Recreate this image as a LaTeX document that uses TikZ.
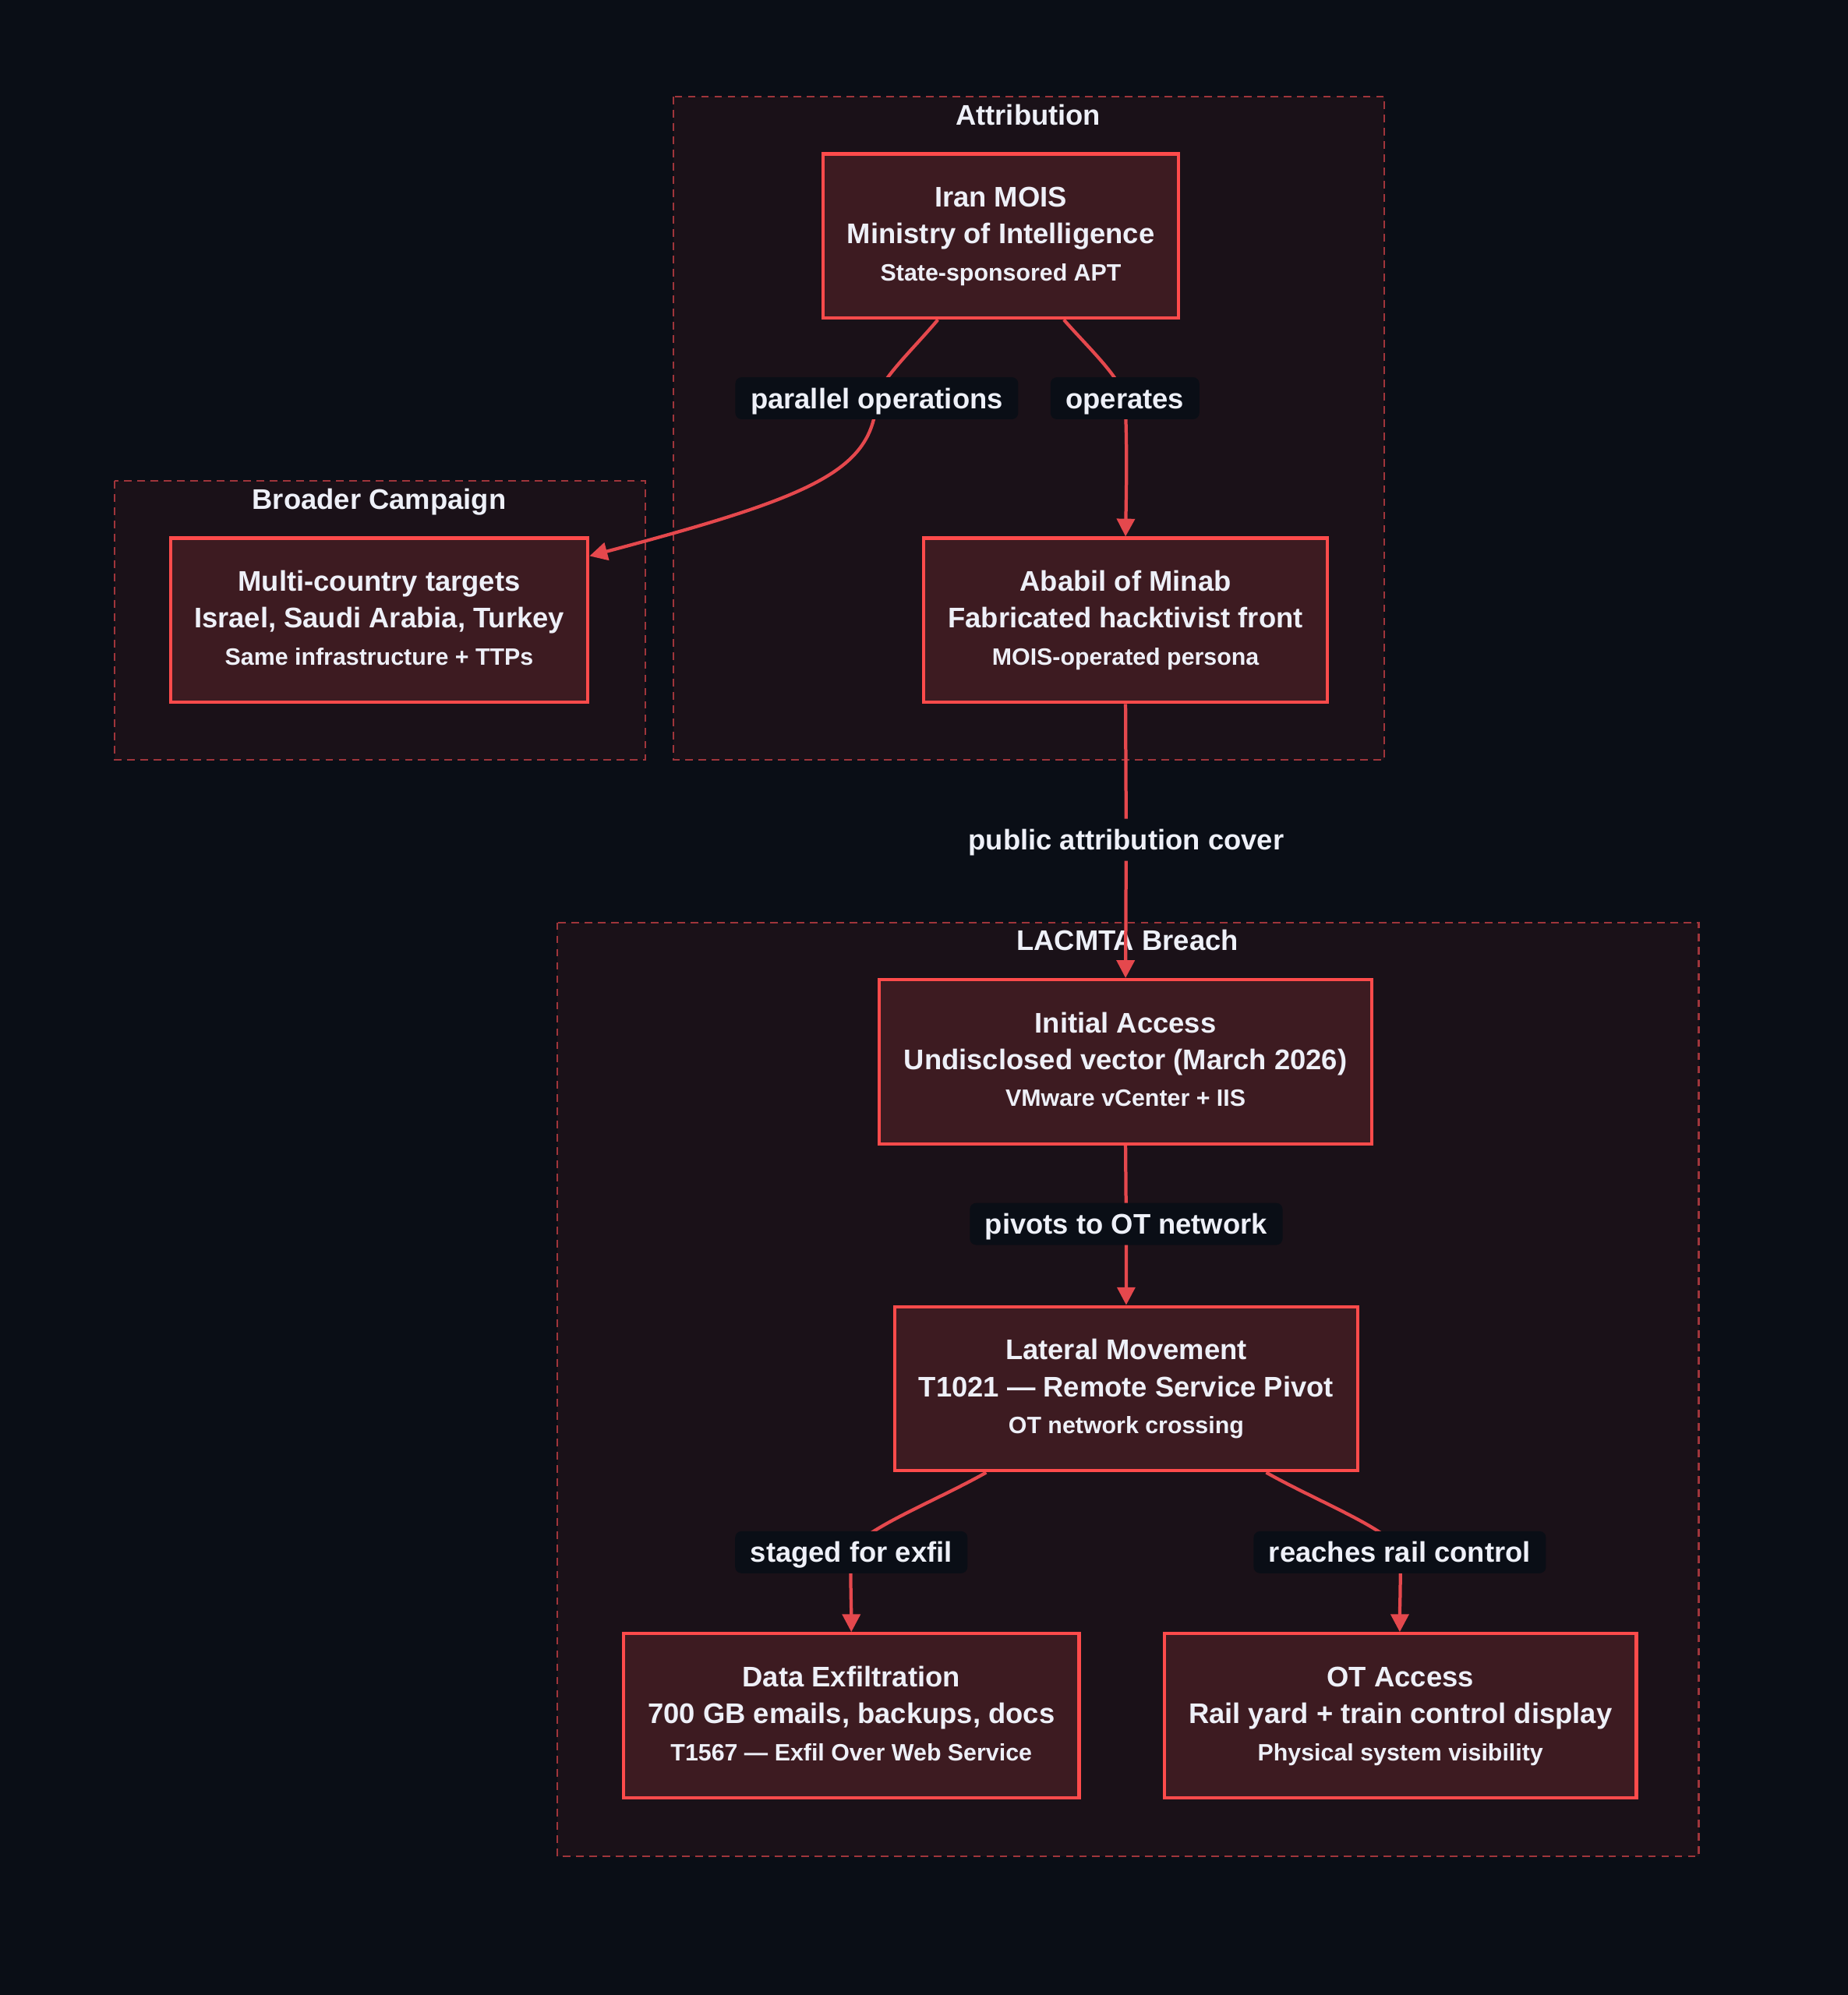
\documentclass[tikz,border=0pt]{standalone}
\usepackage{fontspec}
\setmainfont{Liberation Sans}
\usetikzlibrary{arrows.meta,calc}
\definecolor{pagebg}{HTML}{0A0E16}
\definecolor{clusterfill}{HTML}{1A1118}
\definecolor{clusterline}{HTML}{A0353B}
\definecolor{nodefill}{HTML}{3D1B21}
\definecolor{nodeline}{HTML}{FF4B4B}
\definecolor{edgecol}{HTML}{E5484D}
\definecolor{txt}{HTML}{EEF0F8}
\pgfdeclarelayer{bglayer}
\pgfdeclarelayer{edgelayer}
\pgfsetlayers{bglayer,edgelayer,main}
\newcommand{\mainsize}{\fontsize{11.15}{14.5}\selectfont\bfseries}
\newcommand{\firstline}[1]{\vphantom{(}#1}
\newcommand{\subline}[1]{{\fontsize{9.3}{14.5}\selectfont\bfseries\vphantom{(}#1}}
\begin{document}
\begin{tikzpicture}[x=0.5pt,y=-0.5pt,
  cluster/.style={draw=clusterline,fill=clusterfill,line width=0.7pt,dash pattern=on 3pt off 2.2pt},
  clustertitle/.style={text=txt,font=\mainsize,inner sep=0pt,text height=10pt,text depth=2pt},
  box/.style={draw=nodeline,fill=nodefill,line width=1.3pt,text=txt,font=\mainsize,align=center,inner sep=0pt,minimum height=64.5pt},
  edge/.style={draw=edgecol,line width=1.3pt,-{Triangle[length=7pt,width=7pt]}},
  lbl/.style={fill=pagebg,text=txt,font=\mainsize,rounded corners=2.5pt,inner xsep=6pt,inner ysep=0pt,minimum height=16.5pt,text height=10pt,text depth=2pt}
]
\useasboundingbox (0,0) rectangle (1452,1568);
\begin{pgfonlayer}{bglayer}
  \fill[pagebg] (0,0) rectangle (1452,1568);
  \path[cluster] (529,76) rectangle (1088,597);
  \path[cluster] (90,378) rectangle (507,597);
  \path[cluster] (438,725) rectangle (1335,1459);
  \node[clustertitle] (tattr) at (808,90) {Attribution};
  \node[clustertitle] (tbroad) at (298,392) {Broader Campaign};
  \node[clustertitle] (tlac) at (886,739) {LACMTA Breach};
\end{pgfonlayer}

% nodes
\node[box,minimum width=139.5pt] (iran) at (786.5,185.5) {\firstline{Iran MOIS}\\Ministry of Intelligence\\\subline{State-sponsored APT}};
\node[box,minimum width=164pt] (multi) at (298,487.5) {\firstline{Multi-country targets}\\Israel, Saudi Arabia, Turkey\\\subline{Same infrastructure + TTPs}};
\node[box,minimum width=158.5pt] (ababil) at (884.5,487.5) {\firstline{Ababil of Minab}\\Fabricated hacktivist front\\\subline{MOIS-operated persona}};
\node[box,minimum width=193.5pt] (initial) at (884.5,834.5) {\firstline{Initial Access}\\Undisclosed vector (March 2026)\\\subline{VMware vCenter + IIS}};
\node[box,minimum width=182pt] (lateral) at (885,1091.5) {\firstline{Lateral Movement}\\T1021 — Remote Service Pivot\\\subline{OT network crossing}};
\node[box,minimum width=179pt] (exfil) at (669,1348.5) {\firstline{Data Exfiltration}\\700 GB emails, backups, docs\\\subline{T1567 — Exfil Over Web Service}};
\node[box,minimum width=185.5pt] (ot) at (1100.5,1348.5) {\firstline{OT Access}\\Rail yard + train control display\\\subline{Physical system visibility}};

% edge labels
\node[lbl] (lpar) at (689,313) {parallel operations};
\node[lbl] (lop) at (884,313) {operates};
\node[lbl] (lpub) at (885,660) {public attribution cover};
\node[lbl] (lpiv) at (885,962) {pivots to OT network};
\node[lbl] (lstg) at (669,1220) {staged for exfil};
\node[lbl] (lrail) at (1100,1220) {reaches rail control};

% edges
\begin{pgfonlayer}{edgelayer}
  \draw[edge] ($(iran.south)+(-49.5,0)$) .. controls (718,274) and (692,298) .. (lpar.center)
        .. controls (686,370) and (640,390) .. ($(multi.east)+(0,-50.5)$);
  \draw[edge] ($(iran.south)+(49.5,0)$) .. controls (855,273) and (880,296) .. (lop.center)
        .. controls (886,350) and (885,390) .. (ababil.north);
  \draw[edge] (ababil.south) -- (lpub.center) -- (initial.north);
  \draw[edge] (initial.south) -- (lpiv.center) -- (lateral.north);
  \draw[edge] ($(lateral.south)+(-110,0)$) .. controls (735,1180) and (675,1203) .. (lstg.center)
        .. controls (668,1240) and (669,1262) .. (exfil.north);
  \draw[edge] ($(lateral.south)+(110,0)$) .. controls (1035,1180) and (1095,1203) .. (lrail.center)
        .. controls (1101,1240) and (1100,1262) .. (ot.north -| lrail.center);
\end{pgfonlayer}
\end{tikzpicture}
\end{document}
